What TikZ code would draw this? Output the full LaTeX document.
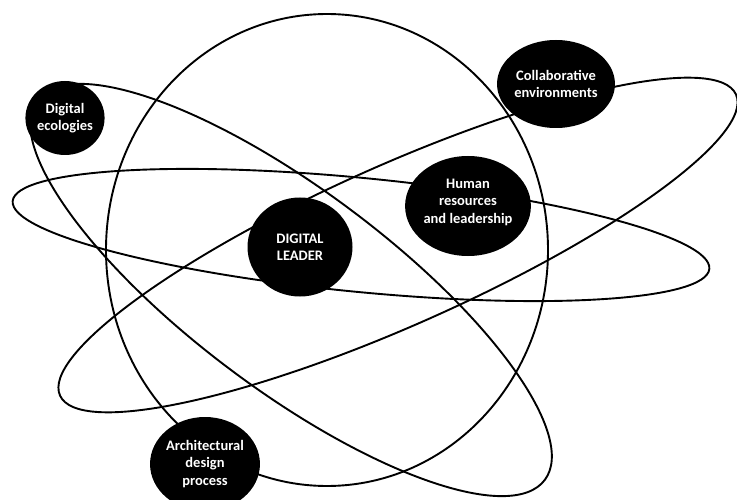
\documentclass[tikz,border=0pt]{standalone}
\usepackage{fontspec}
\setmainfont{Carlito}
\usetikzlibrary{shapes.geometric}
\tikzset{
  orbit/.style={draw=black, line width=1.9pt},
  topic/.style={ellipse, fill=black, text=white, inner sep=0pt,
    align=center, font=\fontsize{14.5}{17.5}\selectfont\bfseries}
}
\begin{document}
\begin{tikzpicture}[x=1pt,y=1pt]
\useasboundingbox (0,0) rectangle (737,-500);
% orbits
\draw[orbit] (327,-250) ellipse [x radius=221pt, y radius=236pt];
\draw[orbit, rotate around={-5.56:(361,-235)}] (361,-235) ellipse [x radius=350pt, y radius=57pt];
\draw[orbit, rotate around={24:(398,-245)}] (398,-245) ellipse [x radius=370pt, y radius=80pt];
\draw[orbit, rotate around={-36.8:(291,-290)}] (291,-290) ellipse [x radius=317pt, y radius=100pt];
% topics
\node[topic, minimum width=76pt, minimum height=74pt] (eco) at (65,-118) {Digital\\ecologies};
\node[topic, minimum width=91pt, minimum height=88pt] (collab) at (556,-84) {Collaborative\\environments};
\node[topic, minimum width=100pt, minimum height=100pt] (human) at (468,-206) {Human\\resources\\and leadership\\[-8pt]};
\node[topic, minimum width=105pt, minimum height=99pt] (leader) at (300,-247) {DIGITAL\\LEADER};
\node[topic, minimum width=94pt, minimum height=94pt] (arch) at (205,-464) {Architectural\\design\\process};
\end{tikzpicture}
\end{document}
